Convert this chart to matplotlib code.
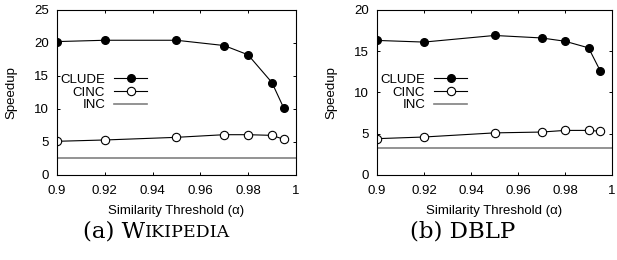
import matplotlib
matplotlib.use("Agg")
import matplotlib.pyplot as plt
from matplotlib.ticker import FuncFormatter
from matplotlib.offsetbox import TextArea, HPacker, AnnotationBbox

plt.rcParams['font.family'] = ['Liberation Sans', 'DejaVu Sans']

alpha = [0.9, 0.92, 0.95, 0.97, 0.98, 0.99, 0.995]

# (a) Wikipedia
wiki_clude = [20.2, 20.4, 20.4, 19.6, 18.2, 14.0, 10.1]
wiki_cinc = [5.1, 5.3, 5.7, 6.1, 6.1, 6.0, 5.4]
wiki_inc = 2.6

# (b) DBLP
dblp_clude = [16.3, 16.1, 16.9, 16.6, 16.2, 15.4, 12.6]
dblp_cinc = [4.4, 4.6, 5.1, 5.2, 5.4, 5.4, 5.3]
dblp_inc = 3.3

x_ticks = [0.9, 0.92, 0.94, 0.96, 0.98, 1.0]

fig = plt.figure(figsize=(6.17, 2.6), dpi=100)
ax1 = fig.add_axes([0.0924, 0.327, 0.387, 0.635])
ax2 = fig.add_axes([0.611, 0.327, 0.381, 0.635])


def draw(ax, clude, cinc, inc, ymax):
    ax.plot(alpha, clude, color='black', lw=0.8, marker='o', ms=5.5,
            mfc='black', mec='black', label='CLUDE')
    ax.plot(alpha, cinc, color='black', lw=0.8, marker='o', ms=6,
            mfc='white', mec='black', mew=0.8, label='CINC')
    ax.axhline(inc, color='#808080', lw=1.2, label='INC')
    ax.set_xlim(0.9, 1.0)
    ax.set_ylim(0, ymax)
    ax.set_xticks(x_ticks)
    ax.set_yticks(range(0, ymax + 1, 5))
    ax.xaxis.set_major_formatter(FuncFormatter(lambda v, p: '%g' % round(v, 2)))
    ax.tick_params(direction='in', length=2.5, width=0.7, labelsize=9.5,
                   right=True, top=True)
    ax.tick_params(axis='x', pad=7)
    ax.tick_params(axis='y', pad=6)
    for s in ax.spines.values():
        s.set_linewidth(0.8)
    ax.set_xlabel('Similarity Threshold (\u03b1)', fontsize=9.5, labelpad=6)
    ax.set_ylabel('Speedup', fontsize=9.5, labelpad=12)
    ax.legend(loc='center left', bbox_to_anchor=(0.0, 0.5), frameon=False,
              markerfirst=False, fontsize=9.5, handlelength=2.5,
              handletextpad=0.7, labelspacing=0.05, borderaxespad=0,
              borderpad=0.25)


draw(ax1, wiki_clude, wiki_cinc, wiki_inc, 25)
draw(ax2, dblp_clude, dblp_cinc, dblp_inc, 20)


def caption(parts, xy):
    boxes = [TextArea(t, textprops=dict(family='DejaVu Serif', fontsize=fs))
             for t, fs in parts]
    pack = HPacker(children=boxes, align='baseline', pad=0, sep=0)
    ab = AnnotationBbox(pack, xy, xycoords='figure fraction', frameon=False,
                        box_alignment=(0.5, 0.5))
    fig.add_artist(ab)


caption([('(a) W', 16.5), ('IKIPEDIA', 12.5)], (0.254, 0.11))
caption([('(b) DBLP', 16.5)], (0.75, 0.11))

fig.savefig('out.png', dpi=100)
